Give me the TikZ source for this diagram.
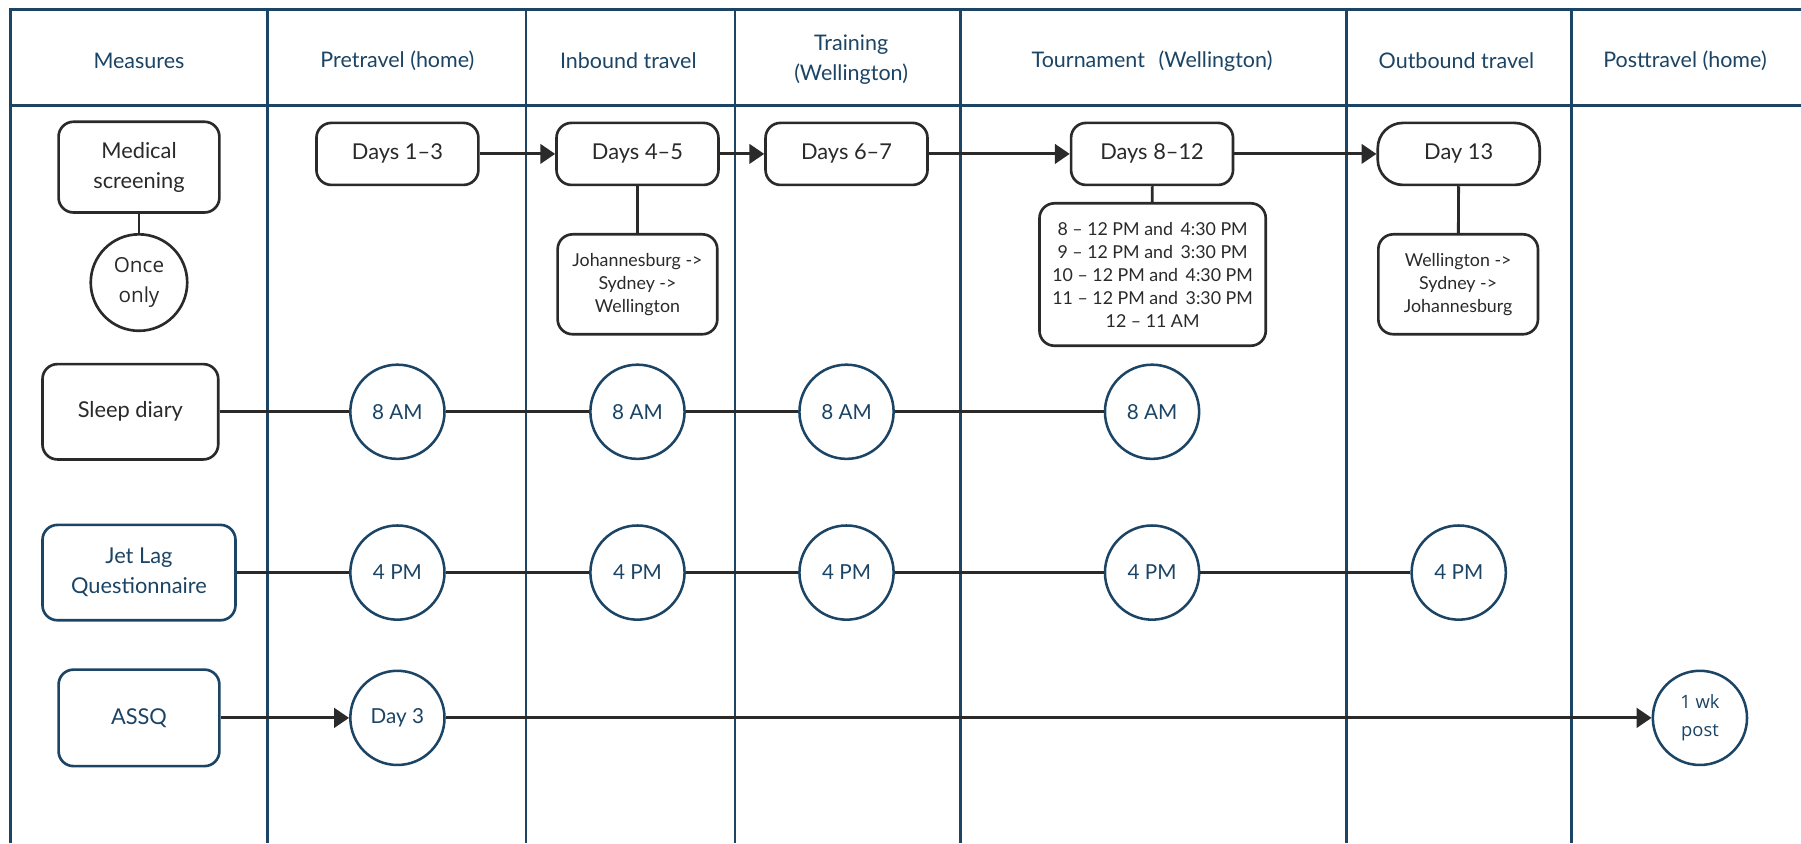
\documentclass[tikz,border=0pt]{standalone}
\usepackage{fontspec}
\setmainfont{Lato}
\newfontfamily\osans{Open Sans}
\usetikzlibrary{arrows.meta}
\definecolor{navy}{HTML}{1B4465}
\definecolor{ink}{HTML}{2A2A2A}
\begin{document}
\begin{tikzpicture}[x=1pt,y=-1pt,
  grid/.style={navy, line width=2.4pt},
  hdr/.style={text=navy, font=\fontsize{18.7}{26}\selectfont, align=center, inner sep=0pt},
  mbox/.style={draw=ink, line width=2.3pt, rounded corners=13pt, align=center, text=ink, inner sep=0pt, font=\fontsize{19}{26}\selectfont},
  nbox/.style={mbox, draw=navy, text=navy},
  dbox/.style={mbox, minimum width=141pt, minimum height=54pt},
  sbox/.style={mbox, font=\fontsize{15.5}{20}\selectfont},
  circ/.style={circle, draw=navy, line width=2.2pt, text=navy, minimum size=82pt, inner sep=0pt, font=\fontsize{18}{24}\selectfont, align=center},
  con/.style={ink, line width=2.5pt},
  arr/.style={con, -{Triangle[length=13pt,width=17pt]}}
]
\fill[white] (0,0) rectangle (1568,734);
\useasboundingbox (0,0) rectangle (1568,734);
% grid
\draw[grid] (9,734) -- (9,8) -- (1568,8);
\draw[grid] (9,92) -- (1568,92);
\foreach \x in {233,458,640,836,1172,1368} \draw[grid] (\x,8) -- (\x,734);
% headers
\node[hdr] (h1) at (121,53) {Measures};
\node[hdr] (h2) at (346,53) {Pretravel (home)};
\node[hdr] (h3) at (547,53) {Inbound travel};
\node[hdr] (h4) at (741,52) {Training\\(Wellington)};
\node[hdr] (h5) at (1003,53) {Tournament\hspace{12pt}(Wellington)};
\node[hdr] (h6) at (1268,53) {Outbound travel};
\node[hdr] (h7) at (1467,53) {Posttravel (home)};
% row 1
\node[mbox, minimum width=140pt, minimum height=79pt] (med) at (121,145.5) {Medical\\screening};
\node[circle, draw=ink, line width=2.3pt, minimum size=84pt, inner sep=0pt, align=center, text=ink, font=\osans\fontsize{18}{26}\selectfont] (once) at (121,246) {Once\\only};
\node[dbox] (d1) at (346,134) {Days 1–3};
\node[dbox] (d2) at (555,134) {Days 4–5};
\node[dbox] (d3) at (737,134) {Days 6–7};
\node[dbox] (d4) at (1003,134) {Days 8–12};
\node[dbox, rounded corners=22pt] (d5) at (1270,134) {Day 13};
\node[sbox, minimum width=139pt, minimum height=87pt] (jsw) at (555,247.5) {Johannesburg ->\\Sydney ->\\Wellington};
\node[sbox, minimum width=197pt, minimum height=124pt] (tt) at (1003.5,239) {8 – 12 PM and \,4:30 PM\\9 – 12 PM and \,3:30 PM\\10 – 12 PM and \,4:30 PM\\11 – 12 PM and \,3:30 PM\\12 – 11 AM};
\node[sbox, minimum width=139pt, minimum height=87pt] (wsj) at (1269.5,247.5) {Wellington ->\\Sydney ->\\Johannesburg};
\draw[con] (med) -- (once);
\draw[con] (d2) -- (jsw);
\draw[con] (d4) -- (tt);
\draw[con] (d5) -- (wsj);
\draw[arr] (d1) -- (d2);
\draw[arr] (d2) -- (d3);
\draw[arr] (d3) -- (d4);
\draw[arr] (d4) -- (d5);
% row 2
\node[mbox, minimum width=153pt, minimum height=83pt] (sd) at (113.5,358.5) {Sleep diary};
\node[circ] (s1) at (346,358.5) {8 AM};
\node[circ] (s2) at (555,358.5) {8 AM};
\node[circ] (s3) at (737,358.5) {8 AM};
\node[circ] (s4) at (1003,358.5) {8 AM};
\draw[con] (sd) -- (s1);
\draw[con] (s1) -- (s2);
\draw[con] (s2) -- (s3);
\draw[con] (s3) -- (s4);
% row 3
\node[nbox, minimum width=168pt, minimum height=83pt] (jl) at (121,498.5) {Jet Lag\\Questionnaire};
\node[circ] (j1) at (346,498.5) {4 PM};
\node[circ] (j2) at (555,498.5) {4 PM};
\node[circ] (j3) at (737,498.5) {4 PM};
\node[circ] (j4) at (1003,498.5) {4 PM};
\node[circ] (j5) at (1270,498.5) {4 PM};
\draw[con] (jl) -- (j1);
\draw[con] (j1) -- (j2);
\draw[con] (j2) -- (j3);
\draw[con] (j3) -- (j4);
\draw[con] (j4) -- (j5);
% row 4
\node[nbox, minimum width=140pt, minimum height=84pt] (assq) at (121,625) {ASSQ};
\node[circ] (a1) at (346,625) {Day 3};
\node[circ, font=\osans\fontsize{16}{24}\selectfont] (a2) at (1480,625) {1 wk\\post};
\draw[arr] (assq) -- (a1);
\draw[arr] (a1) -- (a2);
\end{tikzpicture}
\end{document}
